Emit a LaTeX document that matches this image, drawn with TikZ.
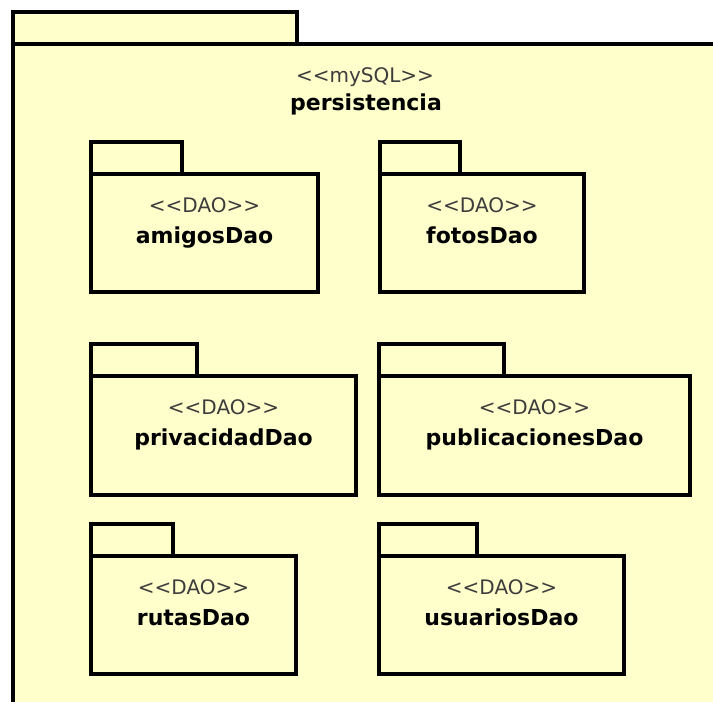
\documentclass[tikz,border=0pt]{standalone}
\usepackage{fontspec}
\setmainfont{DejaVu Sans}
\definecolor{pkgfill}{HTML}{FFFFCC}
\definecolor{stereogray}{HTML}{3C3C3C}
\tikzset{
  pkgbox/.style={draw=black, fill=pkgfill, line width=4pt, rectangle, inner sep=0pt, outer sep=0pt, anchor=north west},
  stereo/.style={anchor=base, inner sep=0pt, text=stereogray, font=\fontsize{20}{24}\selectfont},
  pkgname/.style={anchor=base, inner sep=0pt, text=black, font=\bfseries\fontsize{22}{26}\selectfont}
}
% #1 name, #2 left x, #3 tab top y, #4 tab right x, #5 body top y, #6 right x, #7 bottom y, #8 stereotype, #9 label
\newcommand{\umlpkg}[9]{%
  \node[pkgbox, minimum width={(#4-#2)*1pt}, minimum height={(#5-#3)*1pt}] (#1tab) at (#2,#3) {};
  \node[pkgbox, minimum width={(#6-#2)*1pt}, minimum height={(#7-#5)*1pt}] (#1body) at (#2,#5) {};
  \node[stereo] (#1st) at ({(#2+#6)/2},{#5+38}) {#8};
  \node[pkgname] (#1nm) at ({(#2+#6)/2},{#5+69}) {#9};
}
\newcommand{\dao}{<{}<DAO>{}>}
\begin{document}
\begin{tikzpicture}[x=1pt,y=-1pt]
  \clip (0,0) rectangle (713,702);
  \fill[white] (0,0) rectangle (713,702);
  % outer package
  \node[pkgbox, minimum width=284pt, minimum height=32pt] (outertab) at (13,12) {};
  \node[pkgbox, minimum width=704pt, minimum height=700pt] (outerbody) at (13,44) {};
  \node[stereo] (outerst) at (365,82) {<{}<mySQL>{}>};
  \node[pkgname] (outernm) at (366,110) {persistencia};
  % inner packages
  \umlpkg{amigos}{91}{142}{182}{174}{318}{292}{\dao}{amigosDao}
  \umlpkg{fotos}{380}{142}{460}{174}{584}{292}{\dao}{fotosDao}
  \umlpkg{privacidad}{91}{344}{197}{376}{356}{495}{\dao}{privacidadDao}
  \umlpkg{publicaciones}{379}{344}{504}{376}{690}{495}{\dao}{publicacionesDao}
  \umlpkg{rutas}{91}{524}{173}{556}{296}{674}{\dao}{rutasDao}
  \umlpkg{usuarios}{379}{524}{477}{556}{624}{674}{\dao}{usuariosDao}
\end{tikzpicture}
\end{document}
